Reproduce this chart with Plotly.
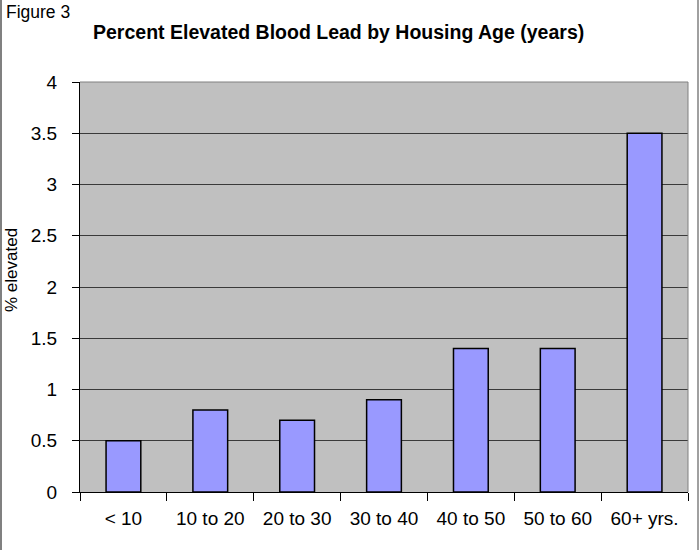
import plotly.graph_objects as go

categories = ["< 10", "10 to 20", "20 to 30", "30 to 40", "40 to 50", "50 to 60", "60+ yrs."]
values = [0.5, 0.8, 0.7, 0.9, 1.4, 1.4, 3.5]
y_ticks = [0, 0.5, 1, 1.5, 2, 2.5, 3, 3.5, 4]
y_tick_labels = ["0", "0.5", "1", "1.5", "2", "2.5", "3", "3.5", "4"]

FONT = "Arial, Liberation Sans, sans-serif"
L, R, T, B = 80, 12, 82, 58
W, H = 700, 550
pw, ph = W - L - R, H - T - B

def px(x):
    return (x - L) / pw

def py(y):
    return (H - B - y) / ph

fig = go.Figure(go.Bar(
    x=categories, y=values,
    marker=dict(color="#9999FF", line=dict(color="black", width=1.5)),
    width=0.4,
))

fig.update_layout(
    width=W, height=H,
    margin=dict(l=L, r=R, t=T, b=B),
    paper_bgcolor="white",
    plot_bgcolor="#C0C0C0",
    showlegend=False,
    font=dict(family=FONT, color="black"),
    xaxis=dict(
        type="category", tickson="boundaries", ticks="outside", ticklen=8,
        tickcolor="black", showline=True, linecolor="black", linewidth=1,
        showgrid=False, tickfont=dict(size=19), mirror=False,
        ticklabelstandoff=9,
    ),
    yaxis=dict(
        range=[0, 4], tickvals=y_ticks, ticktext=y_tick_labels,
        ticks="outside", ticklen=7, tickcolor="black",
        showline=True, linecolor="black", linewidth=1,
        showgrid=True, gridcolor="#3a3a3a", gridwidth=1,
        tickfont=dict(size=19), zeroline=False, ticklabelstandoff=11,
    ),
    annotations=[
        dict(text="<b>Percent Elevated Blood Lead by Housing Age (years)</b>",
             xref="paper", yref="paper", x=px(338), y=py(32),
             xanchor="center", yanchor="middle", showarrow=False,
             font=dict(size=19.5)),
        dict(text="Figure 3", xref="paper", yref="paper", x=px(4), y=py(12),
             xanchor="left", yanchor="middle", showarrow=False,
             font=dict(size=17.5)),
        dict(text="% elevated", xref="paper", yref="paper", x=px(11), y=py(270),
             xanchor="center", yanchor="middle", showarrow=False, textangle=-90,
             font=dict(size=17)),
    ],
    shapes=[
        dict(type="line", xref="paper", yref="paper",
             x0=px(1), x1=px(1), y0=py(550), y1=py(0),
             line=dict(color="#808080", width=2)),
        dict(type="line", xref="paper", yref="paper",
             x0=px(698), x1=px(698), y0=py(550), y1=py(0),
             line=dict(color="#a0a0a0", width=2)),
        dict(type="line", xref="paper", yref="paper",
             x0=0, x1=1, y0=1, y1=1, line=dict(color="#808080", width=1)),
        dict(type="line", xref="paper", yref="paper",
             x0=1, x1=1, y0=0, y1=1, line=dict(color="#808080", width=1)),
    ],
)

fig.write_html("out.html")
